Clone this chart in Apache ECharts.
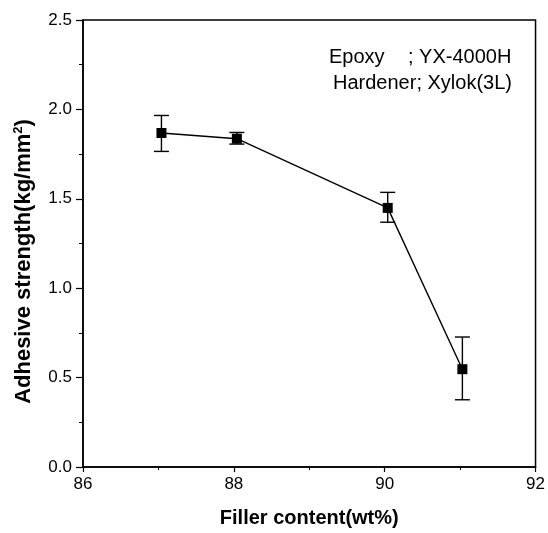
<!DOCTYPE html>
<html><head><meta charset="utf-8">
<script src="https://cdn.jsdelivr.net/npm/echarts@6/dist/echarts.min.js"></script>
<style>html,body{margin:0;padding:0;background:#fff}#c{width:548px;height:533px}</style>
</head><body><div id="c"></div>
<script>
var fillerContent = [87.04, 88.04, 90.04, 91.03];
var strength = [1.868, 1.836, 1.449, 0.547];
var errLow = [1.765, 1.806, 1.369, 0.376];
var errHigh = [1.966, 1.871, 1.536, 0.727];
var xTicks = [86, 88, 90, 92];
var yTicks = [0.0, 0.5, 1.0, 1.5, 2.0, 2.5];

var chart = echarts.init(document.getElementById('c'));
var font = '"Liberation Sans", Arial, sans-serif';
var lineData = fillerContent.map(function(x,i){return [x, strength[i]];});
var errData = fillerContent.map(function(x,i){return [x, errLow[i], errHigh[i]];});
chart.setOption({
  animation:false,
  backgroundColor:'#fff',
  grid:{left:83, top:20, right:9, bottom:65, show:true, borderColor:'#000', borderWidth:1.5},
  xAxis:{type:'value', min:xTicks[0], max:xTicks[xTicks.length-1], interval:2,
    name:'Filler content(wt%)', nameLocation:'middle', nameGap:41,
    nameTextStyle:{fontFamily:font, fontSize:20, fontWeight:'bold', color:'#000'},
    axisLine:{lineStyle:{color:'#000', width:1.5}},
    axisTick:{length:5, lineStyle:{color:'#000', width:1.2}},
    minorTick:{show:true, splitNumber:2, length:3, lineStyle:{color:'#000'}},
    splitLine:{show:false},
    axisLabel:{fontFamily:font, fontSize:17, color:'#000', margin:9}},
  yAxis:{type:'value', min:yTicks[0], max:yTicks[yTicks.length-1], interval:0.5,
    name:'Adhesive strength(kg/mm{sup|2})', nameLocation:'middle', nameGap:48,
    nameTextStyle:{fontFamily:font, fontSize:22, fontWeight:'bold', color:'#000', padding:[0,36,0,0],
      rich:{sup:{fontFamily:font, fontSize:13, fontWeight:'bold', verticalAlign:'top', color:'#000', padding:[0,0,10,0]}}},
    axisLine:{show:true, lineStyle:{color:'#000', width:1.5}},
    axisTick:{length:7, lineStyle:{color:'#000', width:1.2}},
    minorTick:{show:true, splitNumber:2, length:4, lineStyle:{color:'#000'}},
    splitLine:{show:false},
    axisLabel:{fontFamily:font, fontSize:17, color:'#000', margin:11,
      formatter:function(v){return v.toFixed(1);}}},
  series:[
    {type:'custom', data:errData, z:3,
      renderItem:function(params, api){
        var x = api.value(0);
        var lo = api.coord([x, api.value(1)]);
        var hi = api.coord([x, api.value(2)]);
        var w = 7.5;
        var st = {stroke:'#000', lineWidth:1.4, fill:null};
        return {type:'group', children:[
          {type:'line', shape:{x1:lo[0], y1:lo[1], x2:hi[0], y2:hi[1]}, style:st},
          {type:'line', shape:{x1:lo[0]-w, y1:lo[1], x2:lo[0]+w, y2:lo[1]}, style:st},
          {type:'line', shape:{x1:hi[0]-w, y1:hi[1], x2:hi[0]+w, y2:hi[1]}, style:st}
        ]};
      }},
    {type:'line', data:lineData, symbol:'rect', symbolSize:10, z:4,
      lineStyle:{color:'#000', width:1.4}, itemStyle:{color:'#000'}}
  ],
  graphic:[
    {type:'text', x:329, y:57, style:{text:'Epoxy', font:'20px '+font, fill:'#000', verticalAlign:'middle'}},
    {type:'text', x:408, y:57, style:{text:'; YX-4000H', font:'20px '+font, fill:'#000', verticalAlign:'middle'}},
    {type:'text', x:333, y:83, style:{text:'Hardener; Xylok(3L)', font:'20px '+font, fill:'#000', verticalAlign:'middle'}}
  ]
});
</script></body></html>
